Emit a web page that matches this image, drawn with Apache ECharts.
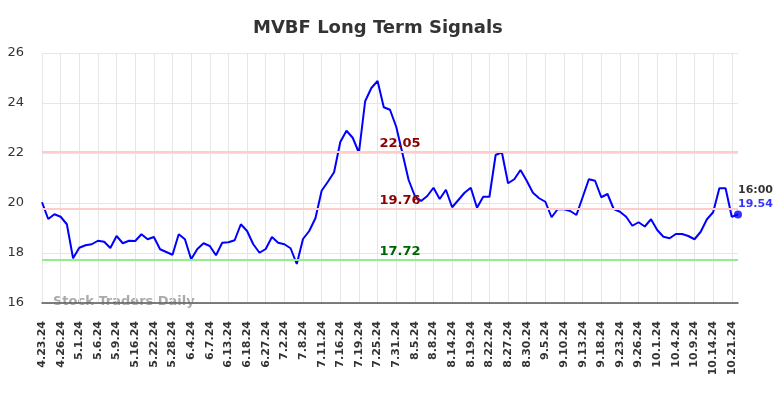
<!DOCTYPE html>
<html>
<head>
<meta charset="utf-8">
<script src="https://cdn.jsdelivr.net/npm/echarts@6/dist/echarts.min.js"></script>
<style>
  html, body { margin: 0; padding: 0; background: #fff; }
  #chart-container { width: 784px; height: 398px; }
</style>
</head>
<body>
<div id="chart-container"></div>
<script>
var dates = [
  '4.23.24', '4.24.24', '4.25.24', '4.26.24', '4.29.24', '4.30.24', '5.1.24', '5.2.24', '5.3.24', '5.6.24',
  '5.7.24', '5.8.24', '5.9.24', '5.13.24', '5.15.24', '5.16.24', '5.17.24', '5.21.24', '5.22.24', '5.23.24',
  '5.24.24', '5.28.24', '5.30.24', '6.3.24', '6.4.24', '6.5.24', '6.6.24', '6.7.24', '6.10.24', '6.12.24',
  '6.13.24', '6.14.24', '6.17.24', '6.18.24', '6.21.24', '6.24.24', '6.27.24', '6.28.24', '7.1.24', '7.2.24',
  '7.3.24', '7.5.24', '7.8.24', '7.9.24', '7.10.24', '7.11.24', '7.12.24', '7.15.24', '7.16.24', '7.17.24',
  '7.18.24', '7.19.24', '7.22.24', '7.24.24', '7.25.24', '7.26.24', '7.30.24', '7.31.24', '8.1.24', '8.2.24',
  '8.5.24', '8.6.24', '8.7.24', '8.8.24', '8.9.24', '8.13.24', '8.14.24', '8.15.24', '8.16.24', '8.19.24',
  '8.20.24', '8.21.24', '8.22.24', '8.23.24', '8.26.24', '8.27.24', '8.28.24', '8.29.24', '8.30.24', '9.3.24',
  '9.4.24', '9.5.24', '9.6.24', '9.9.24', '9.10.24', '9.11.24', '9.12.24', '9.13.24', '9.16.24', '9.17.24',
  '9.18.24', '9.19.24', '9.20.24', '9.23.24', '9.24.24', '9.25.24', '9.26.24', '9.27.24', '9.30.24', '10.1.24',
  '10.2.24', '10.3.24', '10.4.24', '10.7.24', '10.8.24', '10.9.24', '10.10.24', '10.11.24', '10.14.24', '10.15.24',
  '10.17.24', '10.21.24', '10.22.24'
];

var prices = [
  20.03, 19.36, 19.55, 19.45, 19.15, 17.79, 18.21, 18.31, 18.35, 18.49,
  18.45, 18.20, 18.68, 18.39, 18.49, 18.48, 18.75, 18.55, 18.64, 18.15,
  18.04, 17.93, 18.75, 18.55, 17.75, 18.16, 18.39, 18.28, 17.91, 18.41,
  18.43, 18.51, 19.15, 18.88, 18.35, 18.01, 18.16, 18.64, 18.41, 18.35,
  18.19, 17.56, 18.56, 18.88, 19.39, 20.49, 20.85, 21.23, 22.44, 22.89,
  22.61, 22.01, 24.07, 24.60, 24.88, 23.83, 23.73, 23.05, 21.99, 20.92,
  20.28, 20.08, 20.28, 20.61, 20.16, 20.53, 19.83, 20.12, 20.41, 20.61,
  19.81, 20.25, 20.25, 21.92, 22.03, 20.79, 20.95, 21.32, 20.89, 20.41,
  20.19, 20.05, 19.43, 19.76, 19.75, 19.68, 19.52, 20.23, 20.95, 20.89,
  20.23, 20.36, 19.76, 19.65, 19.45, 19.09, 19.23, 19.06, 19.35, 18.92,
  18.65, 18.59, 18.76, 18.76, 18.68, 18.55, 18.85, 19.35, 19.63, 20.59,
  20.59, 19.45, 19.54
];

// signal levels
var upperSignal = 22.05;
var midSignal = 19.76;
var lowerSignal = 17.72;
var lastTime = '16:00';

var dom = document.getElementById('chart-container');
var myChart = echarts.init(dom, null, { renderer: 'canvas' });

var lastIdx = prices.length - 1;

var option = {
  animation: false,
  title: {
    text: 'MVBF Long Term Signals',
    left: 248,
    top: 14,
    textStyle: { fontSize: 18, fontWeight: 'bold', color: '#333', fontFamily: 'DejaVu Sans' }
  },
  grid: { left: 42, right: 46, top: 53, bottom: 95 },
  xAxis: {
    type: 'category',
    data: dates,
    boundaryGap: false,
    axisLine: { lineStyle: { color: '#555', width: 1.5 } },
    axisTick: { show: false },
    axisLabel: {
      interval: 2,
      rotate: 90,
      margin: 18,
      fontSize: 11,
      fontWeight: 'bold',
      color: '#333',
      fontFamily: 'DejaVu Sans'
    },
    splitLine: { show: true, interval: 2, lineStyle: { color: '#e6e6e6', width: 1 } }
  },
  yAxis: {
    type: 'value',
    min: 16,
    max: 26,
    interval: 2,
    axisLine: { show: false },
    axisTick: { show: false },
    axisLabel: { fontSize: 13, color: '#333', margin: 18, fontFamily: 'DejaVu Sans' },
    splitLine: { lineStyle: { color: '#e6e6e6', width: 1 } }
  },
  graphic: [{
    type: 'text',
    left: 53,
    top: 295,
    style: {
      text: 'Stock Traders Daily',
      fill: '#aaa',
      font: 'bold 13px DejaVu Sans'
    }
  }],
  series: [
    {
      type: 'line',
      data: prices,
      showSymbol: false,
      lineStyle: { color: '#0000ff', width: 2 },
      z: 3,
      markLine: {
        silent: true,
        symbol: 'none',
        data: [
          { yAxis: upperSignal, lineStyle: { color: '#ffcccc', width: 2, type: 'solid' },
            label: { color: '#8b0000' } },
          { yAxis: midSignal, lineStyle: { color: '#ffcccc', width: 2, type: 'solid' },
            label: { color: '#8b0000' } },
          { yAxis: lowerSignal, lineStyle: { color: '#90ee90', width: 2, type: 'solid' },
            label: { color: '#006400' } }
        ],
        label: {
          position: 'insideMiddleTop',
          distance: 2,
          fontSize: 13,
          fontWeight: 'bold',
          fontFamily: 'DejaVu Sans',
          offset: [10, 0],
          formatter: function (p) { return p.value.toFixed(2); }
        }
      }
    },
    {
      type: 'scatter',
      data: [[dates[lastIdx], prices[lastIdx]]],
      symbol: 'circle',
      symbolSize: 8,
      itemStyle: { color: '#0000ff' },
      z: 4,
      label: {
        show: true,
        position: [4, -27],
        fontFamily: 'DejaVu Sans',
        formatter: function (p) {
          return '{t|' + lastTime + '}\n{v|' + p.value[1].toFixed(2) + '}';
        },
        rich: {
          t: { fontSize: 11, fontWeight: 'bold', color: '#000', lineHeight: 14 },
          v: { fontSize: 11, fontWeight: 'bold', color: '#0000ff', lineHeight: 14 }
        }
      }
    }
  ]
};

myChart.setOption(option);
window.addEventListener('resize', myChart.resize);
</script>
</body>
</html>
